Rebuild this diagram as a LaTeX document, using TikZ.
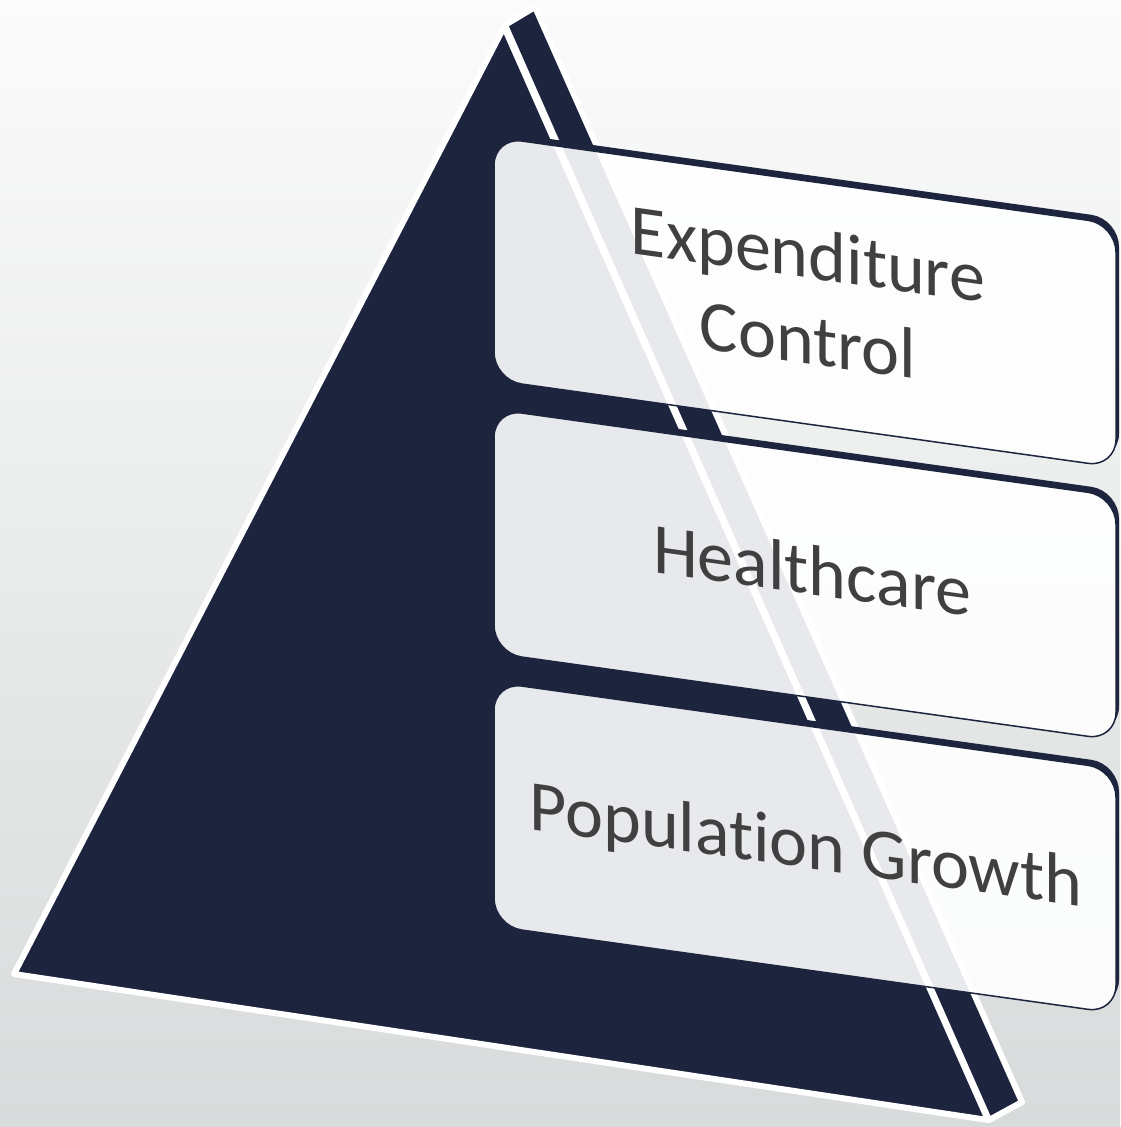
\documentclass[tikz,border=0pt]{standalone}
\usepackage{fontspec}
\newfontfamily\boxfont[Ligatures={NoCommon,NoContextual}]{Carlito}
\definecolor{navy}{RGB}{29,37,62}
\definecolor{bgtop}{RGB}{251,251,251}
\definecolor{bgbot}{RGB}{216,219,219}
\definecolor{txt}{RGB}{64,64,64}
\begin{document}
\begin{tikzpicture}[x=1pt,y=-1pt,
  face/.style={fill=navy, draw=white, line width=6pt, line join=round},
  front/.style={fill=white, fill opacity=0.9, draw=navy, line width=1.5pt, rounded corners=28pt},
  lbl/.style={transform shape, anchor=base, inner sep=0pt, text=txt, font=\boxfont\fontsize{72}{86}\selectfont}]
\shade[top color=bgtop, bottom color=bgbot] (0,0) rectangle (1120,1127);
\useasboundingbox (0,0) rectangle (1120,1127);
% pyramid faces
\draw[face] (504,27) -- (14,974) -- (988,1120) -- cycle;
\draw[face] (505,25) -- (535,7) -- (1022,1102) -- (989,1120) -- cycle;
% boxes
\begin{scope}[yslant=-0.14]
\foreach \t/\b in {68/311,340/584,613/857}{
  \begin{scope}
    \clip (-100,-300) -- (-100,1500) -- (1300,1500) -- (1300,-300) -- cycle
          [rounded corners=28pt] (805,\t) -- (1116,\t) -- (1116,\b) -- (494,\b) -- (494,\t) -- cycle;
    \fill[navy, rounded corners=28pt] (497,\t-6) rectangle (1119,\b-6);
  \end{scope}
  \draw[front] (805,\t) -- (1116,\t) -- (1116,\b) -- (494,\b) -- (494,\t) -- cycle;
}
\node[lbl] (exp) at (808,165) {Expenditure};
\node[lbl] (ctl) at (808,251) {Control};
\node[lbl] (hlt) at (812,481) {Healthcare};
\node[lbl] (pop) at (806,755) {Population Growth};
\end{scope}
\end{tikzpicture}
\end{document}
